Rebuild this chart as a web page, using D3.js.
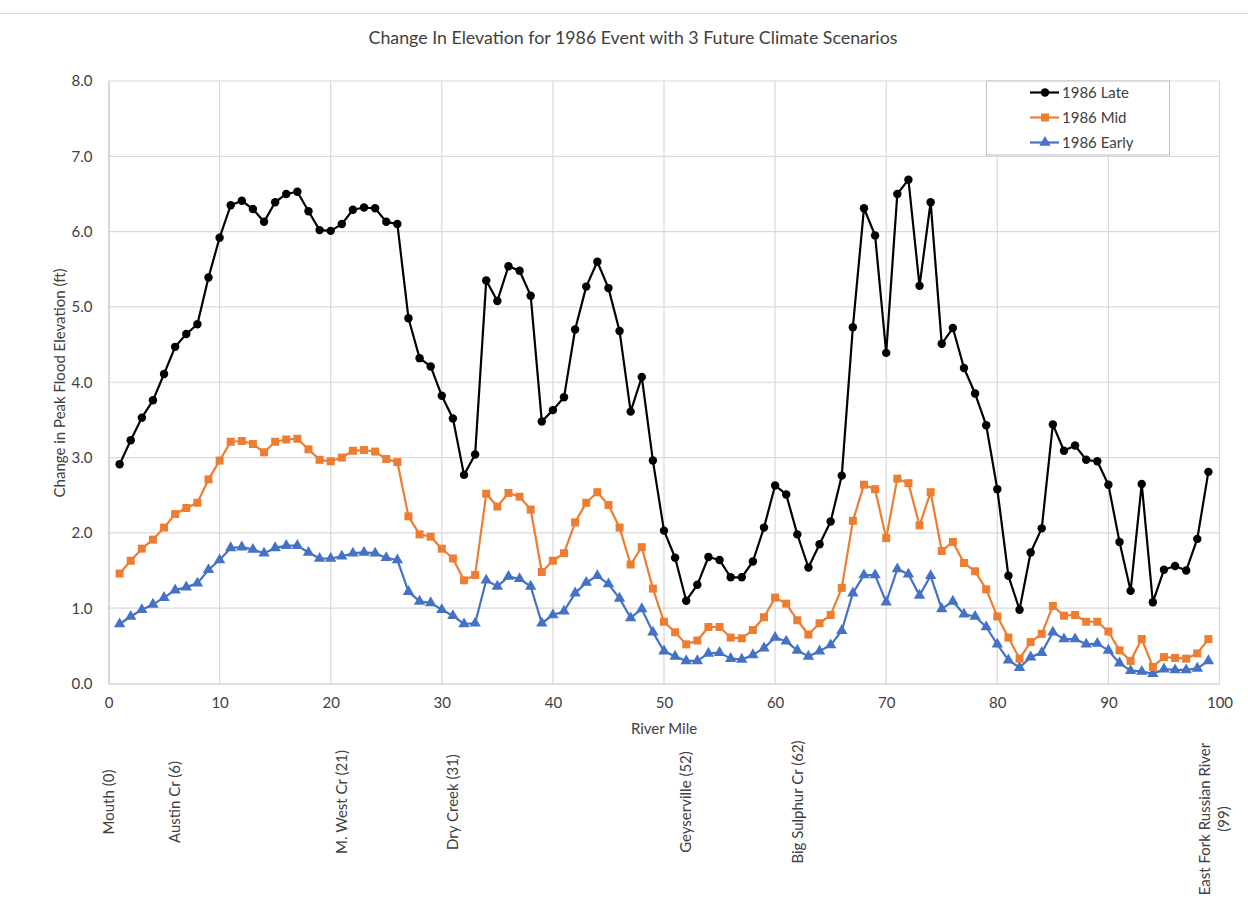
<!DOCTYPE html>
<html>
<head>
<meta charset="utf-8">
<script src="https://cdn.jsdelivr.net/npm/d3@7"></script>
<style>
  body { margin: 0; background: #fff; }
  text { font-family: Lato, "Open Sans", sans-serif; fill: #404040; }
</style>
</head>
<body>
<svg id="chart" width="1248" height="915"></svg>
<script>
const miles = d3.range(1, 100);
const late = [2.91,3.23,3.53,3.76,4.11,4.47,4.64,4.77,5.39,5.92,6.35,6.41,6.30,6.13,6.39,6.50,6.53,6.27,6.02,6.01,6.10,6.29,6.32,6.31,6.13,6.10,4.85,4.32,4.21,3.82,3.52,2.77,3.04,5.35,5.08,5.54,5.48,5.15,3.48,3.63,3.80,4.70,5.27,5.60,5.25,4.68,3.61,4.07,2.96,2.03,1.67,1.10,1.31,1.68,1.64,1.41,1.41,1.62,2.07,2.63,2.51,1.98,1.54,1.85,2.15,2.76,4.73,6.31,5.95,4.39,6.50,6.69,5.28,6.39,4.51,4.72,4.19,3.85,3.43,2.58,1.43,0.98,1.74,2.06,3.44,3.09,3.16,2.97,2.95,2.64,1.88,1.23,2.65,1.08,1.51,1.56,1.50,1.92,2.81];
const mid = [1.46,1.63,1.79,1.91,2.07,2.25,2.33,2.40,2.71,2.96,3.21,3.22,3.18,3.07,3.21,3.24,3.25,3.11,2.97,2.95,3.00,3.09,3.10,3.08,2.98,2.94,2.22,1.98,1.95,1.79,1.66,1.37,1.44,2.52,2.35,2.53,2.48,2.31,1.48,1.63,1.73,2.14,2.40,2.54,2.37,2.07,1.58,1.81,1.26,0.82,0.68,0.52,0.57,0.75,0.75,0.61,0.60,0.71,0.88,1.14,1.06,0.84,0.65,0.80,0.91,1.27,2.16,2.64,2.58,1.93,2.72,2.66,2.10,2.54,1.76,1.88,1.60,1.49,1.25,0.89,0.61,0.33,0.55,0.66,1.03,0.90,0.91,0.82,0.82,0.69,0.44,0.30,0.59,0.22,0.35,0.34,0.33,0.40,0.59];
const early = [0.79,0.89,0.98,1.05,1.14,1.24,1.28,1.33,1.51,1.64,1.80,1.81,1.78,1.73,1.80,1.83,1.83,1.74,1.66,1.66,1.69,1.73,1.74,1.73,1.67,1.64,1.22,1.09,1.07,0.98,0.90,0.79,0.80,1.37,1.29,1.42,1.39,1.29,0.80,0.91,0.96,1.20,1.34,1.43,1.32,1.13,0.87,0.99,0.68,0.43,0.36,0.30,0.30,0.40,0.41,0.33,0.32,0.38,0.47,0.61,0.56,0.44,0.36,0.43,0.51,0.70,1.20,1.44,1.44,1.08,1.52,1.45,1.17,1.43,0.99,1.09,0.92,0.89,0.75,0.52,0.31,0.21,0.35,0.41,0.68,0.59,0.59,0.52,0.53,0.44,0.27,0.17,0.16,0.13,0.19,0.18,0.18,0.20,0.30];
const seriesNames = ["1986 Late", "1986 Mid", "1986 Early"];
const xTicks = [0,10,20,30,40,50,60,70,80,90,100];
const yTicks = [0,1,2,3,4,5,6,7,8];
const landmarkNames = ["Mouth (0)", "Austin Cr (6)", "M. West Cr (21)", "Dry Creek (31)", "Geyserville (52)", "Big Sulphur Cr (62)", "East Fork Russian River|(99)"];
const landmarkMiles = [0, 6, 21, 31, 52, 62, 99];
const titleText = "Change In Elevation for 1986 Event with 3 Future Climate Scenarios";
const xTitle = "River Mile";
const yTitle = "Change in Peak Flood Elevation (ft)";

const svg = d3.select("#chart");
const W = 1248, H = 915;
const FS = 15;
const plot = {left: 108.5, right: 1219.5, top: 81, bottom: 683.5};
const x = d3.scaleLinear().domain([0, 100]).range([plot.left, plot.right]);
const y = d3.scaleLinear().domain([0, 8]).range([plot.bottom, plot.top]);

svg.append("rect").attr("width", W).attr("height", H).attr("fill", "#fff");
svg.append("line").attr("x1", 0).attr("x2", W).attr("y1", 13.5).attr("y2", 13.5)
  .attr("stroke", "#d9d9d9").attr("stroke-width", 1);

// gridlines
const grid = svg.append("g");
grid.selectAll(".hg").data(yTicks.slice(1)).join("line")
  .attr("x1", plot.left).attr("x2", plot.right)
  .attr("y1", d => y(d)).attr("y2", d => y(d))
  .attr("stroke", "#d9d9d9").attr("stroke-width", 1.2);
grid.selectAll(".vg").data(xTicks.slice(1)).join("line")
  .attr("y1", plot.top).attr("y2", plot.bottom)
  .attr("x1", d => x(d)).attr("x2", d => x(d))
  .attr("stroke", "#d9d9d9").attr("stroke-width", 1.2);

// axes
const xAxis = d3.axisBottom(x).tickValues(xTicks).tickSize(0).tickPadding(14).tickFormat(d3.format("d"));
const gx = svg.append("g").attr("transform", `translate(0,${plot.bottom})`).call(xAxis);
gx.select(".domain").attr("stroke", "#bfbfbf").attr("stroke-width", 1.2);
gx.selectAll("text").attr("font-size", FS).attr("fill", "#404040").attr("font-family", "Lato, sans-serif");

const yAxis = d3.axisLeft(y).tickValues(yTicks).tickSize(0).tickPadding(16).tickFormat(d3.format(".1f"));
const gy = svg.append("g").attr("transform", `translate(${plot.left},0)`).call(yAxis);
gy.select(".domain").attr("stroke", "#bfbfbf").attr("stroke-width", 1.2);
gy.selectAll("text").attr("font-size", FS).attr("fill", "#404040").attr("font-family", "Lato, sans-serif");

// series
const series = [
  {name: seriesNames[0], values: late, color: "#000000", symbol: d3.symbolCircle, size: 56},
  {name: seriesNames[1], values: mid, color: "#ED7D31", symbol: d3.symbolSquare, size: 64},
  {name: seriesNames[2], values: early, color: "#4472C4", symbol: d3.symbolTriangle, size: 56}
];
const line = d3.line().x((d, i) => x(miles[i])).y(d => y(d));
const drawOrder = [2, 1, 0];
drawOrder.forEach(k => {
  const s = series[k];
  const g = svg.append("g");
  g.append("path").attr("d", line(s.values)).attr("fill", "none")
    .attr("stroke", s.color).attr("stroke-width", 2.2).attr("stroke-linejoin", "round");
  g.selectAll("path.m").data(s.values).join("path").attr("class", "m")
    .attr("transform", (d, i) => `translate(${x(miles[i])},${y(d)})`)
    .attr("d", d3.symbol().type(s.symbol).size(s.size)())
    .attr("fill", s.color);
});

// legend
const lg = svg.append("g");
lg.append("rect").attr("x", 986.5).attr("y", 81).attr("width", 183).attr("height", 74)
  .attr("fill", "#fff").attr("stroke", "#bfbfbf").attr("stroke-width", 1);
series.forEach((s, i) => {
  const yy = 92.5 + i * 25;
  lg.append("line").attr("x1", 1030).attr("x2", 1059).attr("y1", yy).attr("y2", yy)
    .attr("stroke", s.color).attr("stroke-width", 2.2);
  lg.append("path").attr("transform", `translate(1045,${yy})`)
    .attr("d", d3.symbol().type(s.symbol).size(s.size)()).attr("fill", s.color);
  lg.append("text").attr("x", 1062).attr("y", yy).attr("dy", "0.35em")
    .attr("font-size", FS).text(s.name);
});

// titles
svg.append("text").attr("x", 633).attr("y", 38).attr("dy", "0.35em").attr("text-anchor", "middle")
  .attr("font-size", 17.8).text(titleText);
svg.append("text").attr("x", 664).attr("y", 729).attr("dy", "0.35em").attr("text-anchor", "middle")
  .attr("font-size", FS).text(xTitle);
svg.append("text").attr("transform", `translate(60,383) rotate(-90)`).attr("dy", "0.35em")
  .attr("text-anchor", "middle").attr("font-size", FS).text(yTitle);

// landmark labels
landmarkNames.forEach((name, i) => {
  const parts = name.split("|");
  const cx = x(landmarkMiles[i]) + (parts.length > 1 ? 6 : 0);
  const t = svg.append("text").attr("transform", `translate(${cx},802) rotate(-90)`)
    .attr("text-anchor", "middle").attr("font-size", FS);
  if (parts.length === 1) {
    t.append("tspan").attr("x", 0).attr("dy", "0.35em").text(parts[0]);
  } else {
    t.attr("transform", `translate(${cx},819) rotate(-90)`);
    t.append("tspan").attr("x", 0).attr("dy", "-0.3em").text(parts[0]);
    t.append("tspan").attr("x", 0).attr("dy", "1.3em").text(parts[1]);
  }
});
</script>
</body>
</html>
